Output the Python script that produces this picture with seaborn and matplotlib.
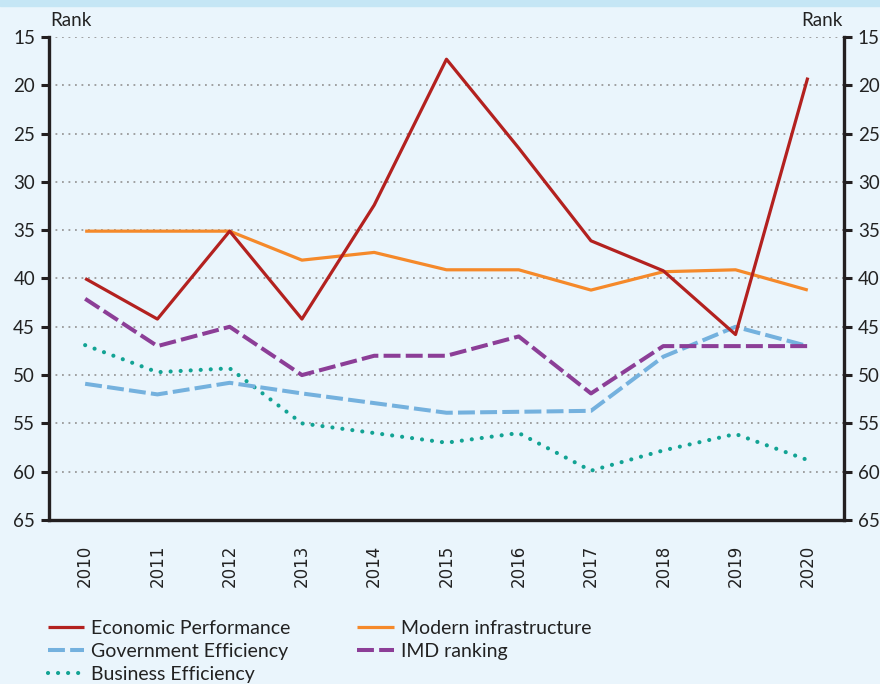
# Competitiveness ranking chart (IMD sub-factors), rank axis inverted
import matplotlib
matplotlib.use("Agg")
import matplotlib.pyplot as plt
import matplotlib.patches as mpatches
import seaborn as sns
import pandas as pd

# ── Data ─────────────────────────────────────────────
years = [2010, 2011, 2012, 2013, 2014, 2015, 2016, 2017, 2018, 2019, 2020]

economic_performance = [40, 44.2, 35.1, 44.2, 32.4, 17.3, 26.5, 36.1, 39.2, 45.8, 19.2]
modern_infrastructure = [35.1, 35.1, 35.1, 38.1, 37.3, 39.1, 39.1, 41.2, 39.3, 39.1, 41.2]
government_efficiency = [50.9, 52, 50.8, 51.9, 52.9, 53.9, 53.8, 53.7, 48.1, 45, 47]
imd_ranking = [42.1, 47, 45, 50, 48, 48, 46, 51.9, 47, 47, 47]
business_efficiency = [46.9, 49.7, 49.3, 55, 56, 57, 56, 59.9, 57.8, 56.1, 58.8]

y_ticks = [15, 20, 25, 30, 35, 40, 45, 50, 55, 60, 65]

df = pd.DataFrame({
    "Year": years,
    "Economic Performance": economic_performance,
    "Modern infrastructure": modern_infrastructure,
    "Government Efficiency": government_efficiency,
    "IMD ranking": imd_ranking,
    "Business Efficiency": business_efficiency,
})

# ── Style ────────────────────────────────────────────
sns.set_style("white")
plt.rcParams["font.family"] = ["Lato", "DejaVu Sans"]
bg = "#eaf5fc"

fig = plt.figure(figsize=(8.8, 6.84), dpi=100, facecolor=bg)
ax = fig.add_axes([0.0557, 0.2398, 0.9033, 0.7061])
ax.set_facecolor(bg)

# light blue strip at the very top
fig.patches.append(mpatches.Rectangle((0, 0.991), 1, 0.009, transform=fig.transFigure,
                                      color="#c5e6f5", zorder=0))

# ── Lines ────────────────────────────────────────────
series = [
    ("Economic Performance", "#b3211f", "-", 2.3, "butt"),
    ("Government Efficiency", "#74b1de", (0, (4.2, 1.3)), 2.9, "butt"),
    ("Business Efficiency", "#12a394", (0, (0.01, 2.4)), 3.0, "round"),
    ("Modern infrastructure", "#f5892a", "-", 2.3, "butt"),
    ("IMD ranking", "#8c3e97", (0, (4.2, 1.3)), 2.9, "butt"),
]

# draw order: the reference has red on top of others
draw_order = ["Business Efficiency", "Government Efficiency", "IMD ranking",
              "Modern infrastructure", "Economic Performance"]
handles = {}
for name in draw_order:
    _, color, ls, lw, cap = [s for s in series if s[0] == name][0]
    sns.lineplot(data=df, x="Year", y=name, color=color, linewidth=lw,
                 linestyle=ls, dash_capstyle=cap, solid_capstyle="butt",
                 ax=ax, label=name)
    handles[name] = ax.get_lines()[-1]

if ax.get_legend() is not None:
    ax.get_legend().remove()

# ── Axes ─────────────────────────────────────────────
ax.set_xlim(2009.5, 2020.5)
ax.set_ylim(65, 15)
ax.set_yticks(y_ticks)
ax.set_xticks(years)
ax.set_xticklabels([str(y) for y in years], rotation=90, fontsize=12,
                   family="DejaVu Sans", color="#222222")
ax.set_xticks([y - 0.5 for y in years] + [years[-1] + 0.5], minor=True)
ax.tick_params(axis="x", which="major", length=0, pad=18)
ax.tick_params(axis="x", which="minor", length=7, width=2, direction="out", color="#231f20")
ax.tick_params(axis="y", length=6, width=2.2, direction="out", color="#231f20",
               labelsize=13.5, labelcolor="#222222", pad=4)
ax.set_xlabel("")
ax.set_ylabel("")

for y in y_ticks[:-1]:
    ax.axhline(y, color="#9a9a9a", linewidth=1.3, linestyle=(0, (1, 2.6)), zorder=0.5)

for side in ["left", "right", "bottom"]:
    ax.spines[side].set_visible(True)
    ax.spines[side].set_linewidth(2.4)
    ax.spines[side].set_color("#231f20")
ax.spines["top"].set_visible(False)

ax2 = ax.twinx()
ax2.set_ylim(65, 15)
ax2.set_yticks(y_ticks)
ax2.tick_params(axis="y", length=6, width=2.2, direction="out", color="#231f20",
                labelsize=13.5, labelcolor="#222222", pad=4)
for side in ["left", "right", "bottom", "top"]:
    ax2.spines[side].set_visible(False)

fig.text(0.057, 0.958, "Rank", fontsize=13.5, color="#222222", ha="left", va="bottom")
fig.text(0.958, 0.958, "Rank", fontsize=13.5, color="#222222", ha="right", va="bottom")

# ── Legend ───────────────────────────────────────────
leg_names = ["Economic Performance", "Government Efficiency", "Business Efficiency",
             "Modern infrastructure", "IMD ranking"]
leg = fig.legend([handles[n] for n in leg_names], leg_names, ncol=2,
                 loc="upper left", bbox_to_anchor=(0.054, 0.094), frameon=False,
                 fontsize=14, handlelength=1.9, handletextpad=0.35,
                 columnspacing=3.4, labelspacing=0.31, borderpad=0, borderaxespad=0)
for t in leg.get_texts():
    t.set_color("#222222")

plt.savefig("out.png", dpi=100, facecolor=bg)
plt.close()
